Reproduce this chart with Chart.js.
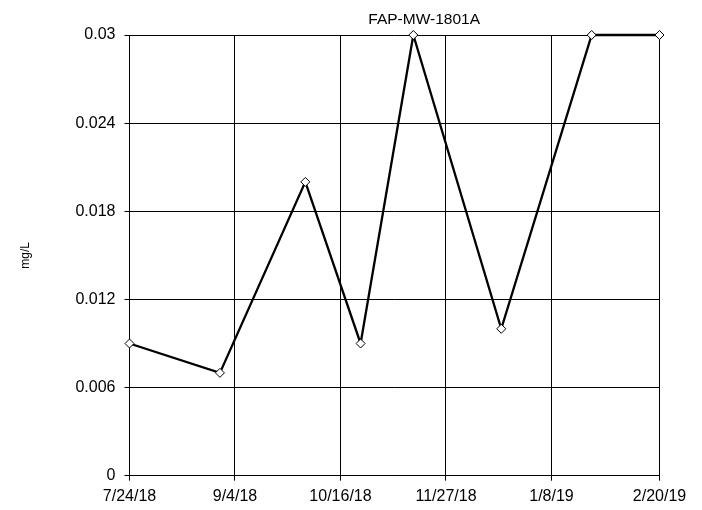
<!DOCTYPE html>
<html>
<head>
<meta charset="utf-8">
<script src="https://cdn.jsdelivr.net/npm/chart.js@4.4.1/dist/chart.umd.min.js"></script>
<style>
    html, body { margin: 0; padding: 0; background: #fff; }
    #wrap { width: 702px; height: 510px; }
</style>
</head>
<body>
<div id="wrap"><canvas id="chart" width="702" height="510"></canvas></div>
<script>
// sample dates and results for FAP-MW-1801A
let sample_dates = ["7/24/18", "8/29/18", "10/2/18", "10/24/18", "11/14/18", "12/19/18", "1/24/19", "2/20/19"];
let sample_vals = [0.009, 0.007, 0.02, 0.009, 0.03, 0.01, 0.03, 0.03];
let x_tick_labels = ["7/24/18", "9/4/18", "10/16/18", "11/27/18", "1/8/19", "2/20/19"];
let y_tick_vals = [0, 0.006, 0.012, 0.018, 0.024, 0.03];
let chart_title = "FAP-MW-1801A";
let y_title = "mg/L";

function toDays(s) {
    let p = s.split("/");
    return Date.UTC(2000 + parseInt(p[2]), parseInt(p[0]) - 1, parseInt(p[1])) / 86400000;
}

let x_ticks = x_tick_labels.map(toDays);
let points = [];
for (let i = 0; i < sample_dates.length; i++) {
    points.push({x: toDays(sample_dates[i]), y: sample_vals[i]});
}

let font_family = "'Liberation Sans', Arial, sans-serif";

// title sits a bit right of the plot centre, like the original
let titlePlugin = {
    id: "offsetTitle",
    afterDraw: function(chart) {
        let ctx = chart.ctx;
        let area = chart.chartArea;
        ctx.save();
        ctx.fillStyle = "#000";
        ctx.font = "15.5px " + font_family;
        ctx.textAlign = "center";
        ctx.textBaseline = "alphabetic";
        ctx.fillText(chart_title, area.left + area.width * 0.556, 23.5);
        ctx.restore();
    }
};

let ctx = document.getElementById("chart").getContext("2d");
let chart = new Chart(ctx, {
    type: "line",
    data: {
        datasets: [{
            data: points,
            borderColor: "#000",
            borderWidth: 2.3,
            tension: 0,
            pointStyle: "rectRot",
            pointRadius: 4.5,
            pointBorderWidth: 1,
            pointBorderColor: "#000",
            pointBackgroundColor: "#fff",
            clip: false
        }]
    },
    options: {
        responsive: false,
        animation: false,
        layout: {
            padding: {top: 35, right: 42.5, bottom: 0, left: 0}
        },
        plugins: {
            legend: {display: false},
            tooltip: {enabled: false},
            title: {display: false}
        },
        scales: {
            x: {
                type: "linear",
                min: x_ticks[0],
                max: x_ticks[x_ticks.length - 1],
                afterBuildTicks: function(scale) {
                    scale.ticks = x_ticks.map(function(v) { return {value: v}; });
                },
                afterFit: function(scale) {
                    scale.height = 34.3;
                },
                grid: {color: "#000", lineWidth: 1, tickLength: 5, drawTicks: true},
                border: {color: "#000", width: 1},
                ticks: {
                    color: "#000",
                    padding: 6,
                    maxRotation: 0,
                    autoSkip: false,
                    font: {family: font_family, size: 16},
                    callback: function(value, index) {
                        return x_tick_labels[index];
                    }
                }
            },
            y: {
                min: 0,
                max: 0.03,
                afterBuildTicks: function(scale) {
                    scale.ticks = y_tick_vals.map(function(v) { return {value: v}; });
                },
                afterFit: function(scale) {
                    scale.width = 129.5;
                },
                grid: {color: "#000", lineWidth: 1, tickLength: 5, drawTicks: true},
                border: {color: "#000", width: 1},
                ticks: {
                    color: "#000",
                    padding: 9,
                    font: {family: font_family, size: 16},
                    callback: function(value, index) {
                        return String(y_tick_vals[index]);
                    }
                },
                title: {
                    display: true,
                    text: y_title,
                    color: "#000",
                    padding: {top: 18, bottom: 0},
                    font: {family: font_family, size: 12}
                }
            }
        }
    },
    plugins: [titlePlugin]
});
</script>
</body>
</html>
